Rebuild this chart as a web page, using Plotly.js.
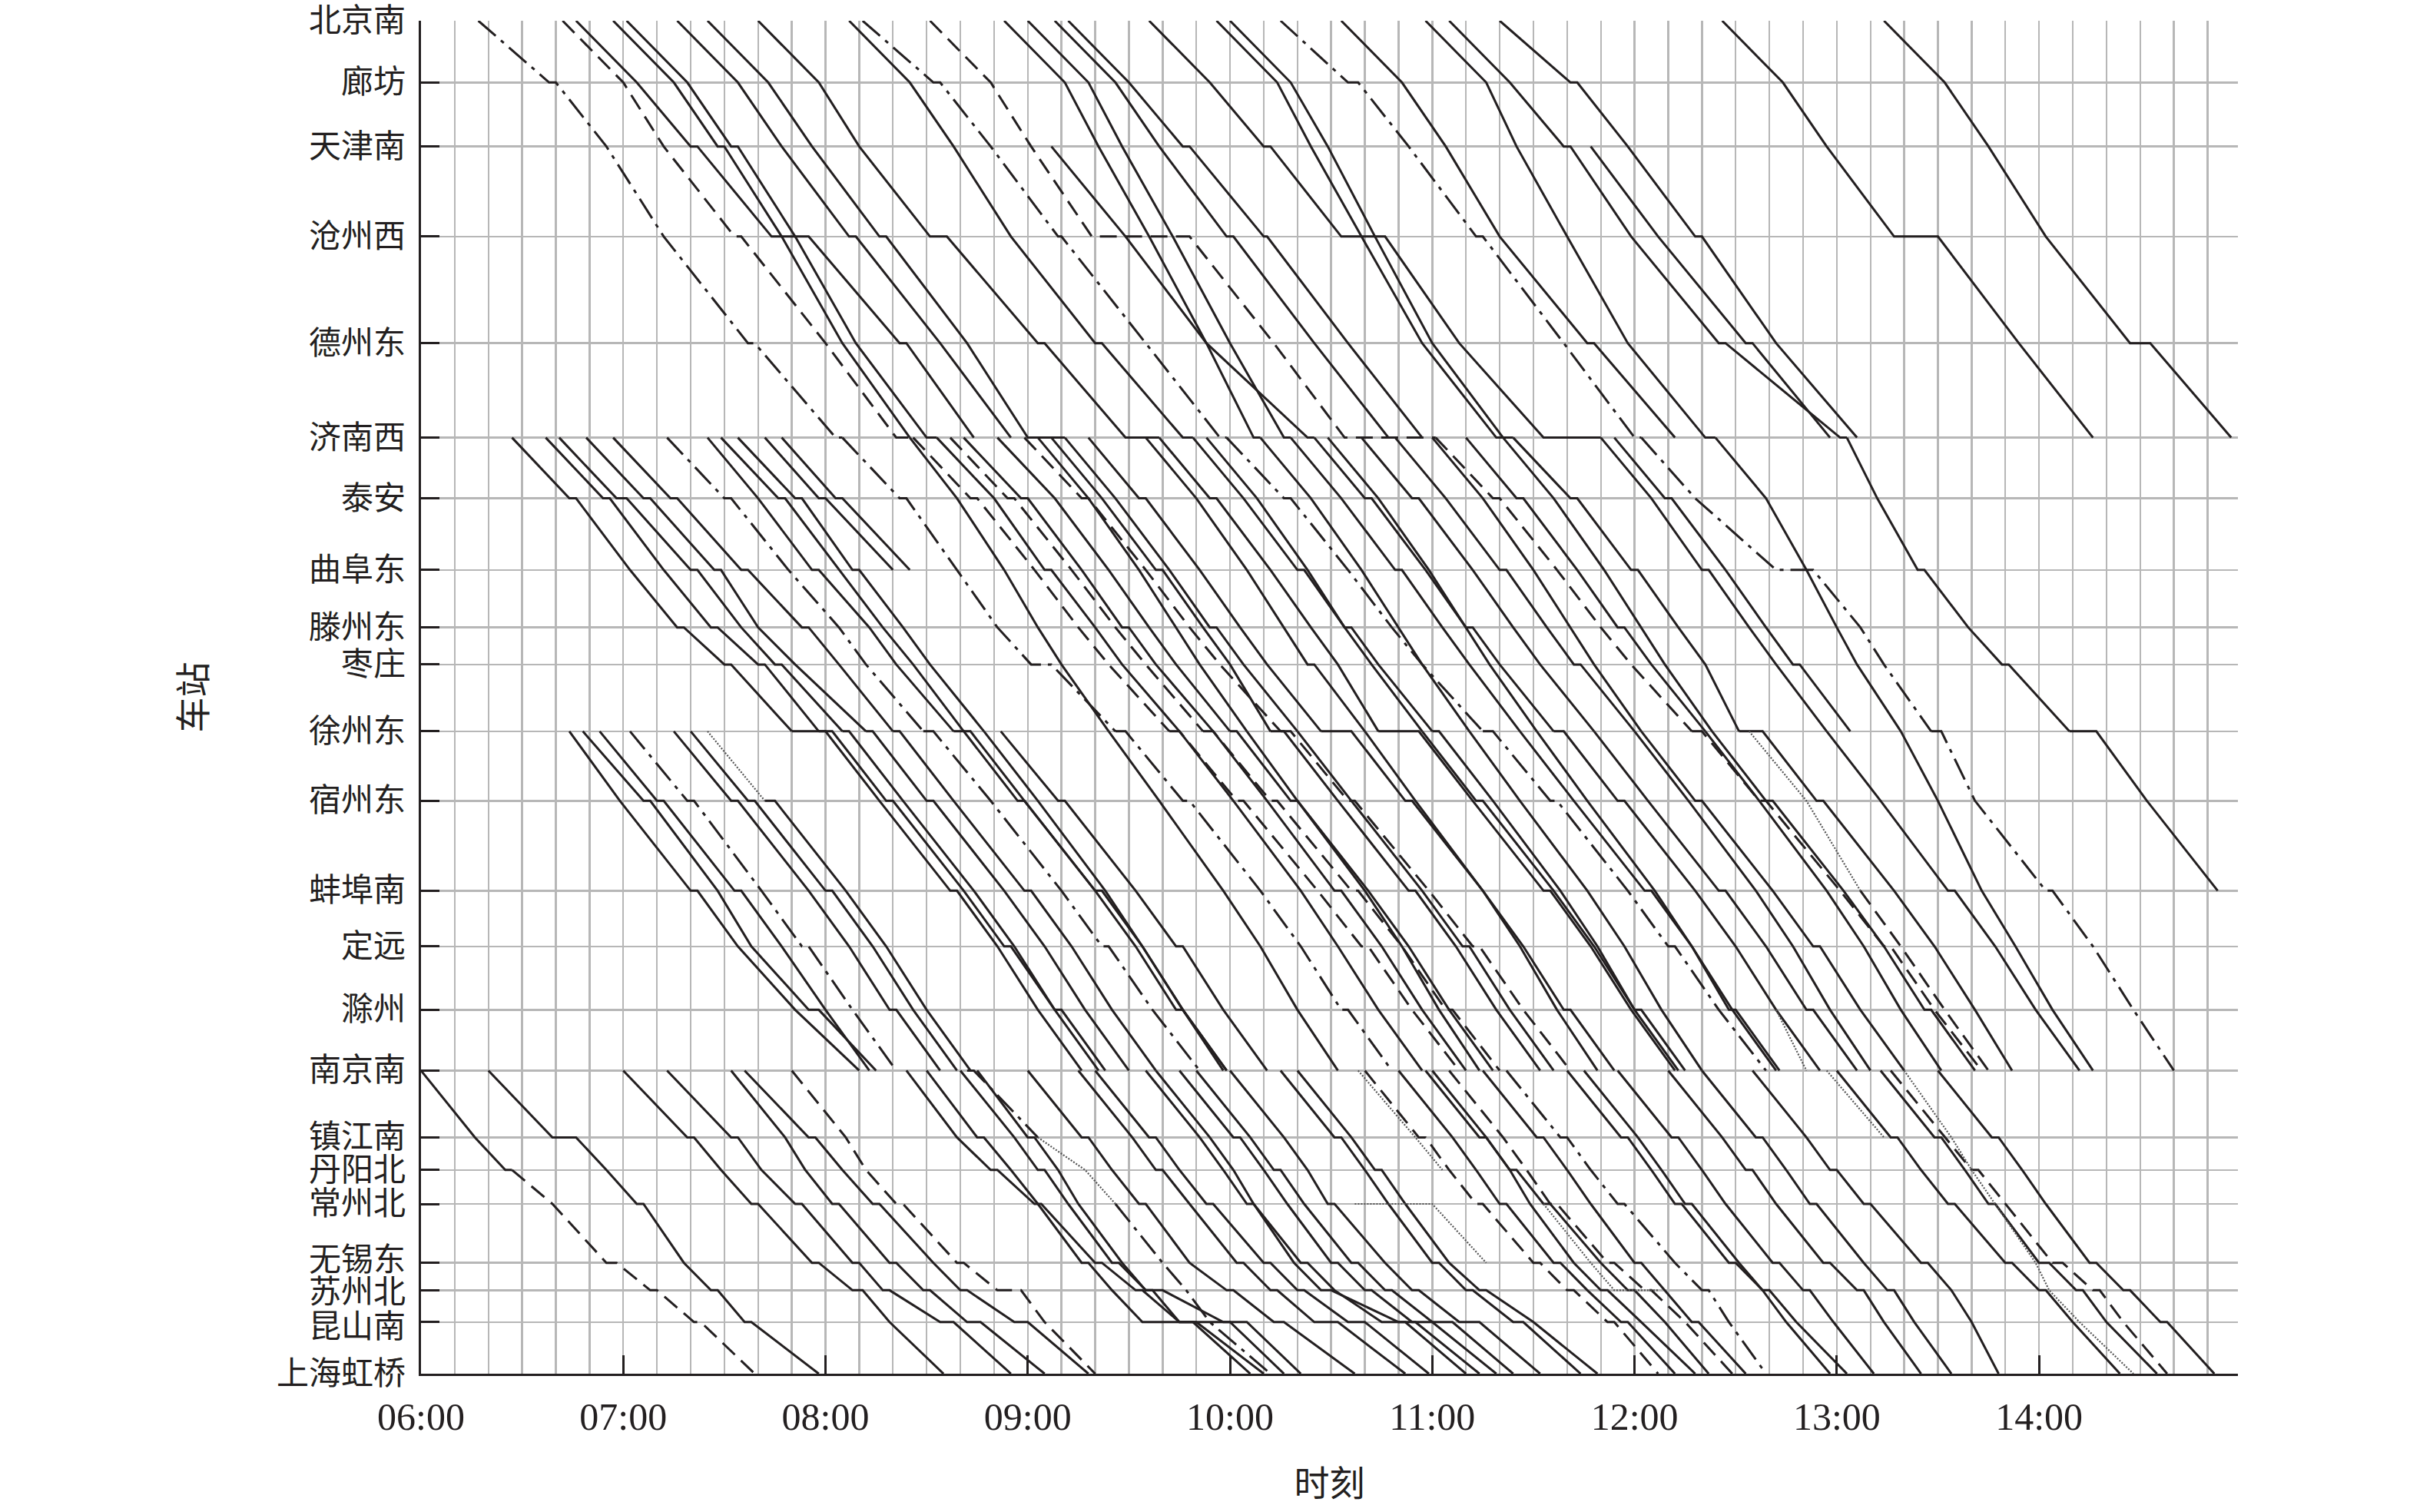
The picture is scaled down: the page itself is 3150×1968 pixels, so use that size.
<!DOCTYPE html>
<html><head><meta charset="utf-8">
<script src="https://cdn.plot.ly/plotly-3.0.1.min.js"></script>
<style>html,body{margin:0;padding:0;background:#fff}</style>
</head><body>
<div id="chart" style="width:3150px;height:1968px"></div>
<script>
const stations = ['北京南','廊坊','天津南','沧州西','德州东','济南西','泰安','曲阜东','滕州东','枣庄','徐州东','宿州东','蚌埠南','定远','滁州','南京南','镇江南','丹阳北','常州北','无锡东','苏州北','昆山南','上海虹桥'];
const stationKm = [0,60.1,122.5,210.2,314.1,406.1,465.2,535.0,591.0,627.1,692.2,759.9,847.5,901.7,963.5,1022.7,1087.8,1119.5,1152.6,1210.0,1236.7,1267.7,1318];
const hourTicks = [6,7,8,9,10,11,12,13,14];
const hourLabels = ['06:00','07:00','08:00','09:00','10:00','11:00','12:00','13:00','14:00'];

// style, start station index, then time at each following station ("arr/dep" = stop)
const band1Trains = [
"dd 0 06:17 06:38/06:40 06:55 07:12 07:37/07:39 08:03/08:05",
"d 0 06:42 07:00 07:12 07:33/07:35 08:00 08:21/08:26",
"s 0 06:46 07:04 07:20/07:22 07:44/07:55 08:22/08:24 08:44",
"s 0 06:57 07:15 07:28/07:30 07:47 08:05 08:25",
"s 0 07:01 07:19 07:32/07:34 07:51 08:09 08:30/08:33",
"s 0 07:16 07:34 07:47 08:07/08:09 08:34 08:55",
"s 0 07:25 07:43 07:56 08:16/08:18 08:42 09:00/09:11",
"s 0 07:40 07:58 08:10 08:31/08:36 09:03/09:05 09:29/09:39",
"s 0 08:07 08:25 08:38 08:55 09:20/09:22 09:46/09:49",
"dd 0 08:11 08:32/08:34 08:49 09:09/09:10 09:35 09:57/09:59",
"d 0 08:31 08:49 09:01 09:19/09:48 10:13 10:34/11:01",
"s 0 08:53 09:11 09:21 09:36 09:53 10:07/10:09",
"s 0 09:00 09:18 09:28 09:43 10:00 10:16/10:18",
"s 0 09:08 09:26 09:39 09:59/10:01 10:25 10:47",
"s 0 09:12 09:30 09:46/09:48 10:10/10:11 10:35 10:57",
"s 0 09:36 09:54 10:10/10:12 10:33/10:46 11:08 11:33/11:50",
"s 0 09:56 10:14 10:24 10:39 10:57 11:19/11:24",
"s 0 10:00 10:18 10:29 10:43 11:00 11:21",
"dd 0 10:15 10:35/10:38 10:53 11:13/11:15 11:39 12:00/12:02",
"s 0 10:33 10:51 11:04 11:20 11:46/11:48 12:12",
"s 0 10:58 11:16 11:25 11:40 11:58 12:21/12:24",
"s 0 11:05 11:23 11:39/11:41 11:59 12:25/12:27 13:01/13:03",
"s 0 11:20 11:41/11:43 11:58 12:18/12:20 12:42 13:06",
"s 0 12:26 12:44 12:57 13:17/13:30 13:54 14:16",
"s 0 13:14 13:32 13:45 14:02 14:27/14:33 14:57",
"s 2 09:07 09:29 09:53 10:23/10:25",
"s 2 11:47 12:07 12:33/12:35 12:58"
];

const band2Trains = [
"s 5 06:27 06:44/06:46 07:02 07:16/07:18 07:30/07:32 07:50",
"s 5 06:37 06:54/06:56 07:12 07:26/07:28 07:40/07:42 07:58",
"s 5 06:41 06:58/07:01 07:20/07:22 07:35 07:45/07:47 08:05",
"s 5 06:49 07:06/07:08 07:27/07:29 07:40 07:51 08:12",
"s 5 06:57 07:14/07:16 07:35/07:37 07:53/07:55 08:04 08:20",
"dd 5 07:13 07:30/07:32 07:49 08:04 08:12 08:29",
"s 5 07:25 07:40 07:56/07:58 08:13 08:21 08:38",
"s 5 07:29 07:46/07:48 08:04 08:17 08:26 08:41",
"s 5 07:34 07:51/07:53 08:08/08:10 08:23 08:31 08:47",
"s 5 07:42 07:58/08:00 08:20",
"s 5 07:47 08:03/08:05 08:25",
"dd 5 08:05 08:22/08:24 08:39 08:51 09:01/09:07 09:26",
"s 5 08:25 08:39 08:53 09:03 09:10 09:24",
"d 5 08:26 08:43/08:45 09:02 09:15 09:24 09:42",
"s 5 08:33 08:50 09:05/09:07 09:20 09:28 09:45",
"d 5 08:37 08:54/08:56 09:13 09:26 09:35 09:52",
"s 5 08:41 08:58/09:00 09:16 09:28/09:30 09:38 09:55",
"s 5 08:51 09:08 09:24 09:36 09:44 10:00",
"d 5 08:59 09:16/09:18 09:35 09:48 09:57 10:15",
"s 5 09:03 09:18 09:33 09:44 09:51 10:05",
"s 5 09:07 09:22 09:38/09:40 09:52 10:00 10:12",
"s 5 09:11 09:26 09:42 09:54/09:56 10:04 10:20",
"s 5 09:18 09:33/09:35 09:51 10:03 10:11 10:27",
"s 5 09:35 09:50 10:05 10:16 10:23/10:25 10:40",
"s 5 09:39 09:54/09:56 10:12 10:24 10:32 10:44",
"s 5 09:49 10:04 10:20/10:22 10:34 10:42 10:57",
"s 5 09:53 10:08 10:23 10:34/10:36 10:44 11:00",
"dd 5 09:59 10:16/10:18 10:35 10:48 10:57 11:15",
"s 5 10:09 10:24 10:39 10:50 10:57 11:11",
"s 5 10:18 10:33 10:49/10:51 11:03 11:11 11:26",
"s 5 10:25 10:40/10:42 10:58 11:10/11:12 11:20 11:36",
"s 5 10:29 10:44 10:59 11:10 11:17 11:31",
"s 5 10:39 10:54/10:56 11:12 11:24 11:32 11:48",
"s 5 10:49 11:04 11:20/11:22 11:34 11:42/11:44 12:00",
"s 5 11:00 11:15 11:30 11:41 11:48 12:02",
"d 5 11:01 11:18/11:20 11:37 11:50 11:59 12:17",
"s 5 11:10 11:25/11:27 11:43 11:55/11:57 12:05 12:21",
"s 5 11:21 11:36 11:51 12:02 12:09 12:23",
"s 5 11:24 11:41/11:43 11:59/12:01 12:13 12:21 12:31",
"s 5 11:50 12:05 12:20/12:22 12:34 12:42 12:57",
"s 5 11:54 12:09/12:11 12:27 12:39 12:47/12:49 13:04",
"dd 5 12:02 12:18 12:42/12:53 13:07 13:14 13:28",
"s 5 12:24 12:39 12:51 13:00 13:06 13:19",
"s 5 13:03 13:12 13:24/13:26 13:39 13:49/13:51 14:09"
];

const band3Trains = [
"s 10 06:44 06:59 07:20/07:22 07:34 07:51 08:10",
"s 10 06:48 07:06/07:08 07:28 07:38 07:55/07:58 08:15",
"s 10 06:53 07:10/07:12 07:33/07:35 07:47 08:00 08:13",
"dd 10 07:02 07:19/07:21 07:41 07:53/07:55 08:08 08:21",
"s 10 07:15 07:32/07:34 07:55 08:07 08:19/08:21 08:34",
"s 10 07:20 07:37/07:39 08:00/08:02 08:14 08:26 08:39",
"o 10 07:25 07:42",
"s 11 07:42/07:45 08:06 08:18 08:30 08:43",
"s 10 07:50/08:00 08:16 08:37/08:39 08:51 09:03 09:16",
"s 10 07:58/08:02 08:18/08:20 08:41 08:53/08:55 09:08 09:21",
"s 10 08:05/08:07 08:23 08:44 08:56 09:08/09:10 09:23",
"s 10 08:12/08:14 08:30/08:32 08:53 09:05 09:17 09:30",
"s 10 08:20/08:22 08:38 08:59/09:01 09:13 09:25 09:38",
"dd 10 08:29/08:32 08:49 09:10 09:22/09:24 09:37 09:51",
"s 10 08:38/08:41 08:57/08:59 09:20 09:32 09:44/09:46 09:59",
"s 10 08:41/08:43 08:59 09:20/09:22 09:34 09:46 09:59",
"s 10 08:47 09:03 09:23 09:34 09:46 09:58",
"s 10 08:52 09:09/09:11 09:32 09:44/09:46 09:58 10:11",
"s 10 09:24 09:39 09:58 10:09 10:20 10:32",
"dd 10 09:26/09:29 09:46/09:48 10:09 10:21 10:33/10:35 10:48",
"d 10 09:42/09:45 10:02/10:04 10:26 10:39/10:41 10:54 11:08",
"s 10 09:45 10:01 10:21 10:32 10:44 10:57",
"d 10 09:52/09:55 10:12/10:14 10:36/10:38 10:51 11:04/11:06 11:20",
"s 10 09:55 10:11 10:31/10:33 10:45 10:57 11:10",
"s 10 10:00/10:02 10:18/10:20 10:41 10:53 11:05 11:18",
"s 10 10:05 10:20 10:40 10:51 11:02 11:14",
"s 10 10:12/10:16 10:32 10:53/10:55 11:07 11:19 11:32",
"d 10 10:15/10:18 10:35/10:37 10:59 11:12/11:14 11:27 11:41",
"s 10 10:20 10:36 10:57 11:09/11:11 11:23 11:36",
"s 10 10:27/10:36 10:52/10:54 11:15 11:27 11:39/11:41 11:54",
"s 10 10:40 10:55 11:15 11:26 11:37 11:49",
"s 10 10:44/10:56 11:12 11:33/11:35 11:47 11:59 12:12",
"s 10 10:57 11:13/11:15 11:36 11:48 12:00/12:02 12:15",
"s 10 11:00/11:02 11:18 11:38 11:49 12:00 12:13",
"s 10 11:11 11:26 11:46 11:57 12:08 12:20",
"dd 10 11:15/11:18 11:35/11:37 11:58 12:10/12:12 12:25 12:39",
"s 10 11:26 11:42 12:03/12:05 12:17 12:29 12:42",
"s 10 11:31 11:46 12:06 12:17 12:28/12:30 12:43",
"s 10 11:36/11:39 11:55/11:57 12:18 12:30 12:42 12:55",
"s 10 11:48 12:04 12:25/12:27 12:39 12:51/12:53 13:06",
"s 10 12:00 12:16 12:36 12:47 12:58 13:10",
"s 10 12:02 12:18/12:20 12:41 12:53/12:55 13:07 13:20",
"d 10 12:17/12:20 12:37/12:39 13:01 13:14/13:16 13:29 13:43",
"s 10 12:21 12:37 12:57 13:08 13:19 13:31",
"s 10 12:23 12:39/12:41 13:02 13:14 13:26/13:28 13:41",
"s 10 12:31/12:38 12:54/12:56 13:17 13:29 13:41 13:52",
"o 10 12:34 12:51 13:07",
"d 12 13:07 13:19 13:32 13:45",
"s 10 12:57 13:13 13:33/13:35 13:47 13:59 14:12",
"s 10 13:19 13:30 13:43 13:53 14:04 14:16",
"dd 10 13:28/13:31 13:41 14:02/14:04 14:16 14:28 14:40",
"s 10 14:09/14:17 14:32 14:53",
"o 14 12:42 12:51"
];

const band4Trains = [
"s 15 06:00 06:16 06:25/06:27",
"d 17 06:27 06:39 06:55/06:58 07:08/07:10 07:21/07:23 07:39",
"s 15 06:20 06:39/06:46 06:55 07:04/07:06 07:18 07:26/07:28 07:36/07:38 07:58",
"s 15 07:00 07:19/07:21 07:29 07:38/07:40 07:56/07:58 08:08/08:11 08:19 08:35",
"s 15 07:13 07:32/07:34 07:41 07:51/07:53 08:08/08:10 08:17/08:19 08:34/08:38 08:55",
"s 15 07:32 07:48 07:54 08:02/08:04 08:19/08:21 08:29/08:31 08:42/08:46 09:05",
"s 15 07:36 07:55/07:57 08:05 08:14/08:16 08:32 08:40/08:42 08:56/09:00 09:18",
"d 15 07:50 08:06 08:12 08:21/08:23 08:39/08:41 08:51/08:58 09:05 09:20",
"s 15 08:24 08:39 08:49/08:51 09:02/09:04 09:20/09:22 09:32/09:34 09:45/09:49 10:06",
"s 15 08:30 08:45/08:47 08:55 09:03 09:16/09:18 09:25 09:34/09:50 10:10",
"dd 15 08:42/08:44 09:03",
"o 16 09:03 09:17 09:26",
"dd 18 09:26 09:40 09:47 09:54 10:12",
"s 15 08:40 08:56 09:03/09:05 09:12 09:25/09:27 09:35/09:37 09:45/10:00 10:16",
"s 15 08:45 09:00/09:02 09:09 09:15 09:28 09:35/09:40 09:58/10:05 10:21",
"s 15 09:00 09:16/09:18 09:25 09:33/09:35 09:48 09:59/10:01 10:13/10:16 10:37",
"s 15 09:15 09:31 09:38/09:40 09:48 10:02/10:04 10:12/10:14 10:25/10:32 10:52",
"s 15 09:20 09:36/09:38 09:45 09:53/09:55 10:10/10:12 10:20/10:22 10:35/10:40 10:59",
"s 15 09:35 09:51 09:58 10:05/10:07 10:21/10:23 10:31 10:45/10:52 11:10",
"s 15 09:38 09:54 10:01 10:07 10:19 10:27/10:30 10:50/10:55 11:14",
"s 15 09:45 10:01/10:03 10:10 10:17 10:30/10:32 10:40/10:42 10:54/11:00 11:19",
"s 15 09:50 10:06 10:13/10:15 10:22 10:36/10:38 10:46/10:48 11:00/11:06 11:24",
"s 15 10:00 10:16 10:23 10:29/10:31 10:46 10:54/10:56 11:08/11:14 11:32",
"s 15 10:15 10:31/10:33 10:40 10:47 11:00/11:02 11:10/11:12 11:24/11:27 11:44",
"s 15 10:20 10:36 10:43/10:45 10:52 11:05 11:14/11:16 11:30 11:49",
"o 15 10:38 10:55 11:03",
"o 18 10:37/11:00 11:16",
"o 18 11:33 11:47 11:54/12:07",
"d 15 10:40 10:56/10:58 11:05 11:13/11:15 11:30/11:32 11:40/11:42 11:52/11:54 12:07",
"s 15 10:50 11:06 11:13 11:20/11:22 11:36/11:38 11:46 11:56/11:58 12:12",
"s 15 10:58 11:14/11:16 11:23 11:29 11:42 11:50/11:52 12:02 12:18",
"s 15 11:00 11:16 11:23/11:25 11:33/11:35 11:50 11:58/12:00 12:09 12:22",
"d 15 11:05 11:21 11:28 11:35/11:37 11:52/11:54 12:03/12:05 12:15 12:29",
"s 15 11:15 11:31/11:33 11:40 11:47 12:00/12:02 12:09 12:17/12:19 12:33",
"dd 15 11:22 11:38/11:40 11:47 11:55/11:57 12:12 12:20/12:22 12:28 12:39",
"s 15 11:40 11:56/11:58 12:05 12:12/12:14 12:28/12:30 12:38 12:45 12:58",
"s 15 11:45 12:01 12:08 12:15/12:17 12:31 12:38/12:40 12:48 13:03",
"s 15 11:55 12:11/12:13 12:20 12:27 12:41/12:43 12:50/12:52 12:59 13:11",
"s 15 12:10 12:26 12:33/12:35 12:42 12:56/12:58 13:06/13:08 13:14 13:25",
"s 15 12:20 12:36/12:38 12:45 12:52/12:54 13:08 13:15/13:17 13:23 13:34",
"s 15 12:35 12:51 12:58/13:00 13:08/13:10 13:25/13:27 13:34 13:40 13:48",
"o 15 12:57 13:14",
"s 15 13:00 13:16/13:18 13:25 13:33/13:35 13:50/13:52 14:00/14:02 14:10 14:24",
"o 15 13:20 13:34 13:40 13:47 13:59 14:03 14:12 14:28",
"s 15 13:13 13:29/13:31 13:38 13:45/13:47 14:00/14:03 14:11/14:13 14:20 14:35",
"d 15 13:16 13:32 13:40/13:42 13:50 14:04/14:07 14:16/14:18 14:25 14:38",
"s 15 13:30 13:46/13:48 13:55 14:02 14:15/14:17 14:25/14:27 14:36/14:38 14:52"
];

// small vertical nudges (px, up = positive) so the tightly spaced southern labels do not collide
const labelNudge = {'无锡东': 4, '苏州北': -3, '昆山南': -6};

const INK = '#231f20';
const GRID = '#b7b7b7';
const lineStyles = {
  s:  {color: INK, width: 3, dash: 'solid'},
  d:  {color: INK, width: 3, dash: '22px,11px'},
  dd: {color: INK, width: 3, dash: '30px,9px,5px,9px'},
  o:  {color: '#555555', width: 2.2, dash: '2px,2px'}
};

function toHour(s) { const p = s.split(':'); return +p[0] + (+p[1]) / 60; }

const groups = {s: {x: [], y: []}, d: {x: [], y: []}, dd: {x: [], y: []}, o: {x: [], y: []}};
[band1Trains, band2Trains, band3Trains, band4Trains].forEach(list => {
  list.forEach(str => {
    const tok = str.trim().split(/\s+/);
    const g = groups[tok[0]];
    let st = +tok[1];
    for (let i = 2; i < tok.length; i++, st++) {
      if (tok[i] === '-') continue;
      tok[i].split('/').forEach(t => { g.x.push(toHour(t)); g.y.push(stationKm[st]); });
    }
    g.x.push(null); g.y.push(null);
  });
});

const traces = Object.keys(groups).map(k => ({
  type: 'scatter', mode: 'lines', x: groups[k].x, y: groups[k].y,
  line: lineStyles[k], connectgaps: false, hoverinfo: 'skip', showlegend: false
}));

const FONT = "'Liberation Serif', 'Noto Sans CJK SC', serif";

const stationAnnotations = stations.map((name, i) => ({
  xref: 'paper', yref: 'y', x: 0, y: stationKm[i], text: name,
  xanchor: 'right', yanchor: 'middle', xshift: -18, yshift: labelNudge[name] || 0,
  showarrow: false, font: {family: FONT, size: 42, color: INK}
}));

const layout = {
  width: 3150, height: 1968,
  margin: {l: 548, r: 237, t: 27, b: 180},
  paper_bgcolor: '#fff', plot_bgcolor: '#fff',
  showlegend: false,
  font: {family: FONT, color: INK, size: 46},
  annotations: stationAnnotations,
  xaxis: {
    range: [6, 14 + 59/60], tickmode: 'array', tickvals: hourTicks, ticktext: hourLabels,
    ticks: 'inside', ticklen: 24, tickwidth: 3, tickcolor: INK,
    showline: true, linecolor: INK, linewidth: 3, mirror: false,
    showgrid: true, gridcolor: GRID, gridwidth: 2.4, zeroline: false,
    minor: {tickmode: 'linear', tick0: 6, dtick: 1/6, showgrid: true, gridcolor: GRID, gridwidth: 2.4, ticks: ''},
    tickfont: {family: FONT, size: 50, color: INK}, ticklabelstandoff: 10,
    title: {text: '时刻', font: {family: FONT, size: 46, color: INK}, standoff: 44}
  },
  yaxis: {
    range: [1318, 0], tickmode: 'array', tickvals: stationKm, ticktext: stations,
    showticklabels: false,
    ticks: 'inside', ticklen: 24, tickwidth: 3, tickcolor: INK,
    showline: true, linecolor: INK, linewidth: 3, mirror: false,
    showgrid: true, gridcolor: GRID, gridwidth: 2.4, zeroline: false,
    title: {text: '车站', font: {family: FONT, size: 46, color: INK}, standoff: 262}
  }
};

Plotly.newPlot('chart', traces, layout, {staticPlot: true, displayModeBar: false});
</script>
</body></html>
